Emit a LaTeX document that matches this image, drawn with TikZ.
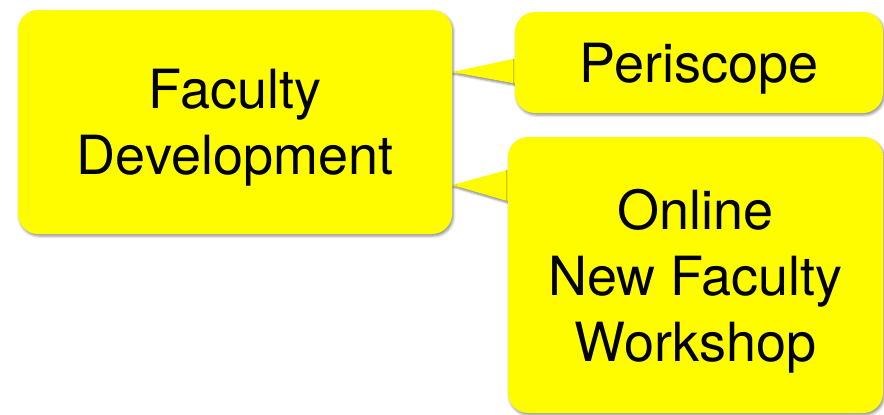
\documentclass[tikz,border=0pt]{standalone}
\usepackage{fontspec}
\setmainfont{TeX Gyre Heros}
\usetikzlibrary{calc,backgrounds,shadows.blur}
\definecolor{calloutyellow}{RGB}{255,252,0}

\begin{document}
\begin{tikzpicture}
  [x=0.75pt,y=-0.75pt,every node/.style={rectangle,rounded corners=15pt,fill=calloutyellow,
    inner sep=0pt,align=center,text depth=0pt,font=\fontsize{40.5}{49.5}\selectfont,
    blur shadow={shadow xshift=1pt,shadow yshift=-1.5pt,shadow blur radius=2pt,shadow opacity=45}}]
  \tikzstyle{tail} = [fill=calloutyellow,blur shadow={shadow xshift=0.5pt,shadow yshift=-1.5pt,shadow blur radius=1.5pt,shadow opacity=45}]
  \useasboundingbox (0,0) rectangle (884,414);
  \node[minimum width=325.5pt,minimum height=168pt] (fac) at (235,122) {Faculty\\Development};
  \node[minimum width=276pt,minimum height=75.75pt] (peri) at (699,62.5) {Periscope};
  \node[minimum width=281.25pt,minimum height=207pt] (onl) at (695.5,275) {Online\\New Faculty\\Workshop};
  % pointers go under the boxes
  \begin{pgfonlayer}{background}
    \path[tail] ($(fac.east)+(0,-50)$) -- ($(peri.west)+(3,-4.5)$) -- ($(peri.west)+(3,21.5)$) -- cycle;
    \path[tail] ($(fac.east)+(0,63)$) -- ($(onl.west)+(3,-106)$) -- ($(onl.west)+(3,-73)$) -- cycle;
  \end{pgfonlayer}
\end{tikzpicture}
\end{document}
